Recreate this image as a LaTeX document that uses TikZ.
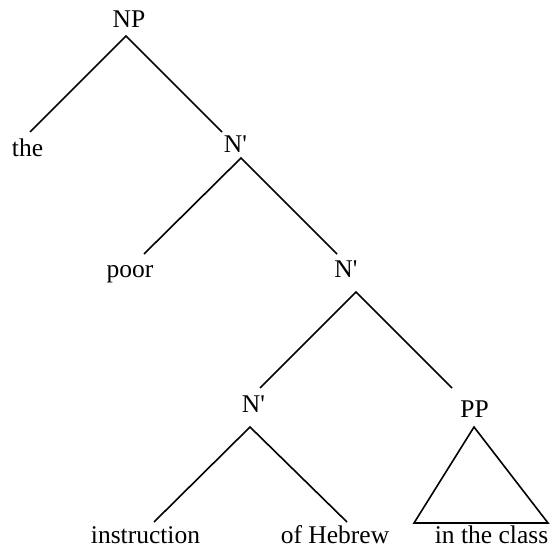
\documentclass[tikz,border=0pt]{standalone}
\usepackage{fontspec}
\setmainfont{Liberation Serif}
\begin{document}
\begin{tikzpicture}[x=1pt,y=-1pt,
  lbl/.style={anchor=base,inner sep=0pt,font=\fontsize{25.5}{28}\selectfont},
  branch/.style={draw=black,line width=1.6pt,line cap=butt}]
\useasboundingbox (0,0) rectangle (554,548);
% labels
\node[lbl] (np) at (129,28) {NP};
\node[lbl] (the) at (27.5,157) {the};
\node[lbl] (nb1) at (235.5,153) {N\textquotesingle};
\node[lbl] (poor) at (130,277) {poor};
\node[lbl] (nb2) at (346,277) {N\textquotesingle};
\node[lbl] (nb3) at (253.5,412) {N\textquotesingle};
\node[lbl] (pp) at (474.5,417) {PP};
\node[lbl] (instr) at (145.5,543) {instruction};
\node[lbl] (heb) at (335,543) {of Hebrew};
\node[lbl] (cls) at (491.5,543) {in the class};
% branch end points
\coordinate (npD) at (126,36);
\coordinate (theU) at (30,132);
\coordinate (nb1U) at (222,132);
\coordinate (nb1D) at (241,158);
\coordinate (poorU) at (144,254);
\coordinate (nb2U) at (337,254);
\coordinate (nb2D) at (356,292);
\coordinate (nb3U) at (260,388);
\coordinate (ppU) at (452,388);
\coordinate (nb3D) at (250,427);
\coordinate (instrU) at (154,522);
\coordinate (hebU) at (347,522);
\coordinate (ppD) at (474,427);
\coordinate (clsL) at (414,523);
\coordinate (clsR) at (548,523);
% branches
\draw[branch] (theU) -- (npD) -- (nb1U);
\draw[branch] (poorU) -- (nb1D) -- (nb2U);
\draw[branch] (nb3U) -- (nb2D) -- (ppU);
\draw[branch] (instrU) -- (nb3D) -- (hebU);
\draw[branch,line join=miter] (ppD) -- (clsL) -- (clsR) -- cycle;
\end{tikzpicture}
\end{document}
